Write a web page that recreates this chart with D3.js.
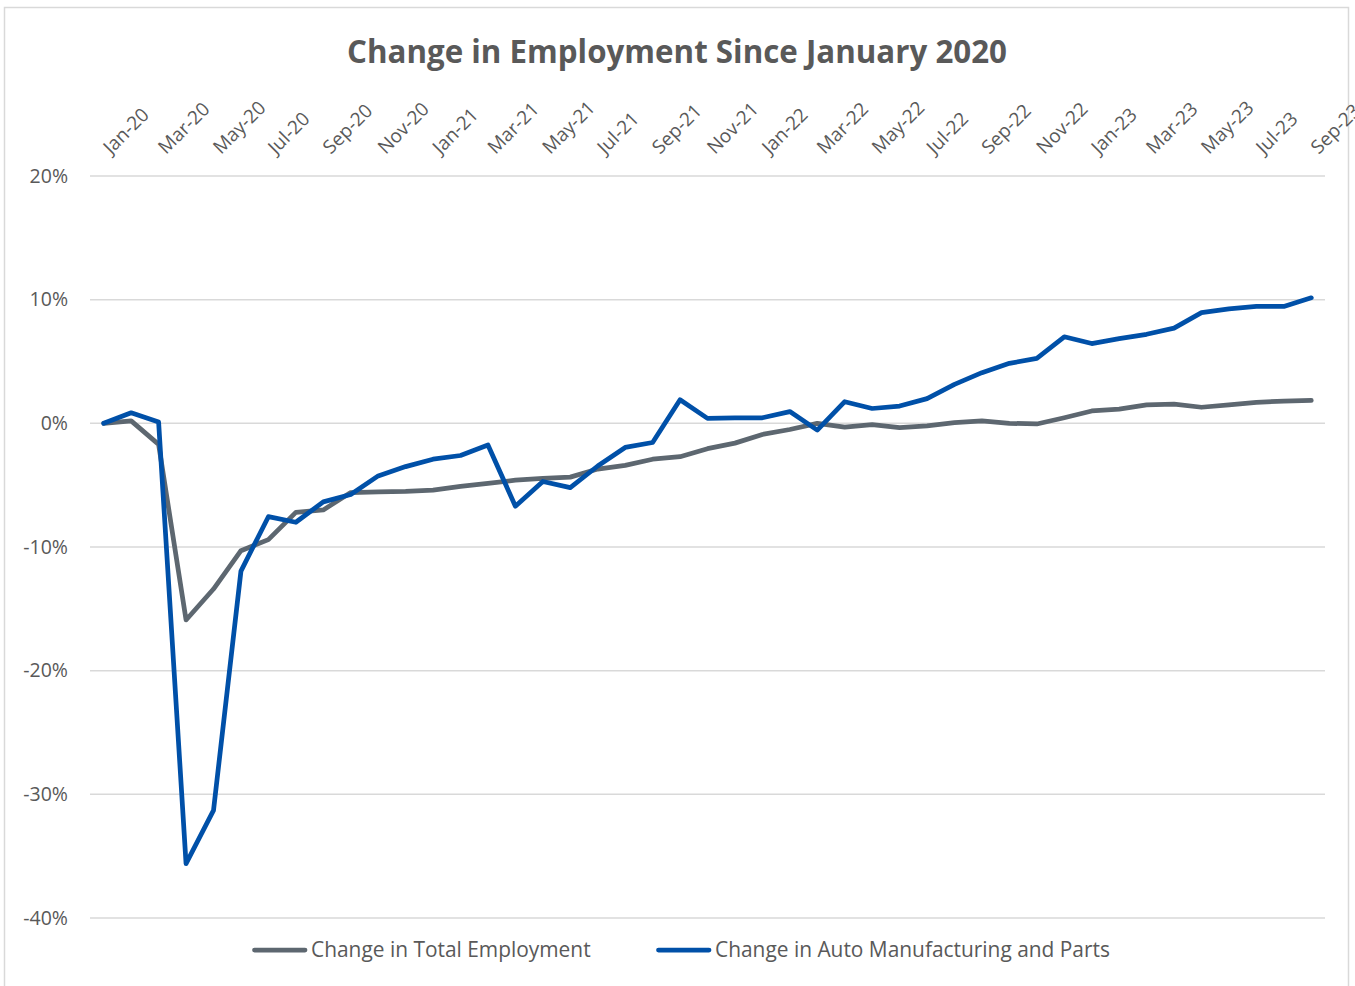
<!DOCTYPE html>
<html>
<head>
<meta charset="utf-8">
<script src="https://cdn.jsdelivr.net/npm/d3@7"></script>
<style>
  html, body { margin: 0; padding: 0; background: #fff; }
  svg { display: block; }
</style>
</head>
<body>
<svg id="chart" width="1355" height="986"></svg>
<script>
const months = ["Jan-20","Feb-20","Mar-20","Apr-20","May-20","Jun-20","Jul-20","Aug-20","Sep-20","Oct-20","Nov-20","Dec-20",
  "Jan-21","Feb-21","Mar-21","Apr-21","May-21","Jun-21","Jul-21","Aug-21","Sep-21","Oct-21","Nov-21","Dec-21",
  "Jan-22","Feb-22","Mar-22","Apr-22","May-22","Jun-22","Jul-22","Aug-22","Sep-22","Oct-22","Nov-22","Dec-22",
  "Jan-23","Feb-23","Mar-23","Apr-23","May-23","Jun-23","Jul-23","Aug-23","Sep-23"];
const totalEmployment = [0, 0.2, -1.7, -15.9, -13.4, -10.3, -9.4, -7.2, -7.0, -5.6, -5.55, -5.5,
  -5.4, -5.1, -4.85, -4.6, -4.45, -4.35, -3.7, -3.4, -2.9, -2.7, -2.05, -1.6,
  -0.9, -0.5, 0.0, -0.3, -0.1, -0.35, -0.2, 0.05, 0.2, 0.0, -0.05, 0.45,
  1.0, 1.15, 1.5, 1.55, 1.3, 1.5, 1.7, 1.8, 1.85];
const autoManufacturing = [0, 0.85, 0.1, -35.6, -31.3, -11.95, -7.55, -8.0, -6.35, -5.75, -4.25, -3.5,
  -2.9, -2.6, -1.75, -6.7, -4.7, -5.2, -3.45, -1.95, -1.55, 1.9, 0.4, 0.45,
  0.45, 0.95, -0.55, 1.75, 1.2, 1.4, 2.0, 3.15, 4.1, 4.85, 5.25, 7.0,
  6.45, 6.85, 7.2, 7.7, 8.95, 9.25, 9.45, 9.45, 10.15];
const yTicks = [-40, -30, -20, -10, 0, 10, 20];
const seriesNames = ["Change in Total Employment", "Change in Auto Manufacturing and Parts"];
const title = "Change in Employment Since January 2020";

const svg = d3.select("#chart");
const textColor = "#595959";
const colors = ["#5d6770", "#0050a8"];
const font = "'Open Sans', sans-serif";

// chart border
svg.append("rect").attr("x", 4.5).attr("y", 7.5).attr("width", 1344).attr("height", 990)
  .attr("fill", "none").attr("stroke", "#d9d9d9").attr("stroke-width", 1.5);

const plot = {left: 90, right: 1325, top: 176, bottom: 918};
const x = d3.scalePoint().domain(months).range([plot.left, plot.right]).padding(0.5);
const y = d3.scaleLinear().domain([-40, 20]).range([plot.bottom, plot.top]);

// gridlines
svg.append("g").selectAll("line").data(yTicks).join("line")
  .attr("x1", plot.left).attr("x2", plot.right)
  .attr("y1", d => y(d)).attr("y2", d => y(d))
  .attr("stroke", "#d9d9d9").attr("stroke-width", 1.5);

// y labels
svg.append("g").selectAll("text").data(yTicks).join("text")
  .attr("x", 68).attr("y", d => y(d)).attr("dy", "0.35em")
  .attr("text-anchor", "end").attr("fill", textColor)
  .style("font-family", font).style("font-size", "19.5px")
  .text(d => d + "%");

// x labels (every other month), rotated
const xLabels = months.filter((m, i) => i % 2 === 0);
svg.append("g").selectAll("text").data(xLabels).join("text")
  .attr("transform", d => `translate(${x(d) + 7.5},${155}) rotate(-45)`)
  .attr("text-anchor", "start").attr("fill", textColor)
  .style("font-family", font).style("font-size", "19px")
  .text(d => d);

// title
svg.append("text").attr("x", 677).attr("y", 63).attr("text-anchor", "middle")
  .attr("fill", textColor).style("font-family", font).style("font-size", "31.3px").style("font-weight", "bold")
  .text(title);

// lines
const line = d3.line().x((d, i) => x(months[i])).y(d => y(d));
[totalEmployment, autoManufacturing].forEach((s, k) => {
  svg.append("path").datum(s).attr("d", line)
    .attr("fill", "none").attr("stroke", colors[k]).attr("stroke-width", 4.75)
    .attr("stroke-linejoin", "round").attr("stroke-linecap", "round");
});

// legend
const legendX = [253, 657];
seriesNames.forEach((name, k) => {
  svg.append("line").attr("x1", legendX[k] + 1.5).attr("x2", legendX[k] + 52)
    .attr("y1", 950).attr("y2", 950)
    .attr("stroke", colors[k]).attr("stroke-width", 4.75).attr("stroke-linecap", "round");
  svg.append("text").attr("x", legendX[k] + 58).attr("y", 950).attr("dy", "0.35em")
    .attr("fill", textColor).style("font-family", font).style("font-size", "20.9px")
    .text(name);
});
</script>
</body>
</html>
